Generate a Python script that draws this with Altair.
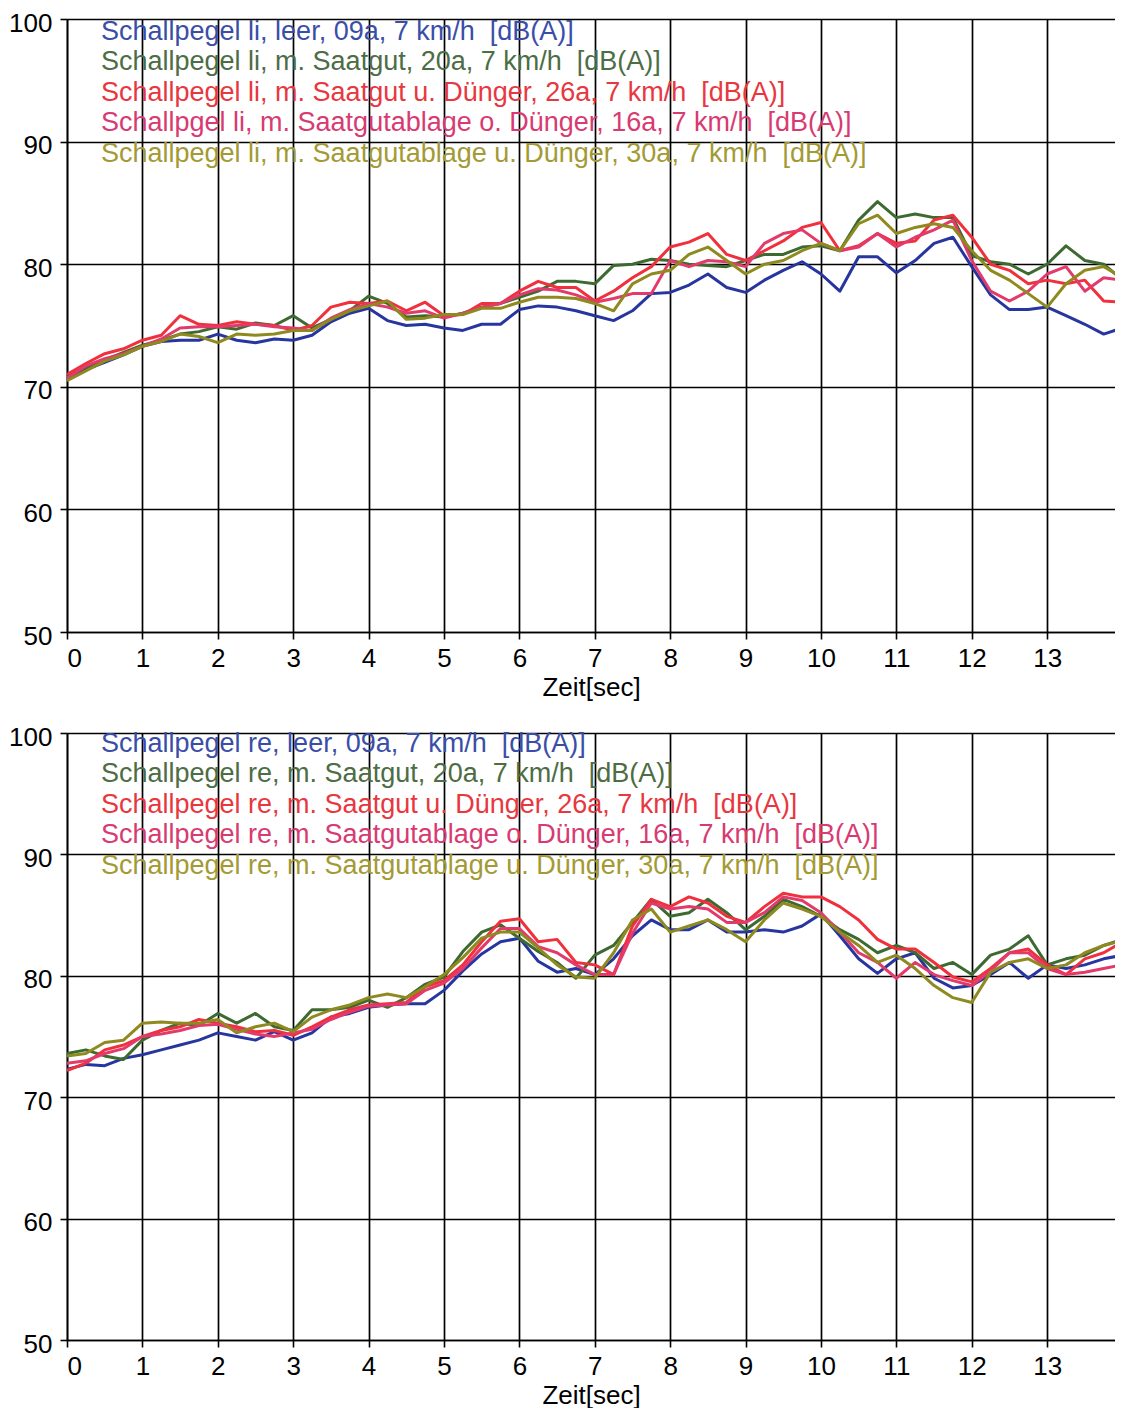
import altair as alt
import pandas as pd

# time samples (s)
T = [i * 0.25 for i in range(57)]

SERIES = ["leer", "Saatgut", "SaatgutDuenger", "AblageOhne", "AblageMit"]
LINE_COLORS = ["#27369f", "#3d6a30", "#f0303c", "#e33a6c", "#8e8a1f"]
TEXT_COLORS = ["#3a4ea8", "#4d6d45", "#e8373f", "#d83a72", "#a39a35"]

NB = "\u00a0"
LABELS_LI = [
    f"Schallpegel li, leer, 09a, 7 km/h {NB}[dB(A)]",
    f"Schallpegel li, m. Saatgut, 20a, 7 km/h {NB}[dB(A)]",
    f"Schallpegel li, m. Saatgut u. Dünger, 26a, 7 km/h {NB}[dB(A)]",
    f"Schallpgel li, m. Saatgutablage o. Dünger, 16a, 7 km/h {NB}[dB(A)]",
    f"Schallpegel li, m. Saatgutablage u. Dünger, 30a, 7 km/h {NB}[dB(A)]",
]
LABELS_RE = [
    f"Schallpegel re, leer, 09a, 7 km/h {NB}[dB(A)]",
    f"Schallpegel re, m. Saatgut, 20a, 7 km/h {NB}[dB(A)]",
    f"Schallpegel re, m. Saatgut u. Dünger, 26a, 7 km/h {NB}[dB(A)]",
    f"Schallpegel re, m. Saatgutablage o. Dünger, 16a, 7 km/h {NB}[dB(A)]",
    f"Schallpegel re, m. Saatgutablage u. Dünger, 30a, 7 km/h {NB}[dB(A)]",
]

# ---- top panel (li) ----
LI_LEER = [70.6, 71.4, 72.0, 72.6, 73.3, 73.7, 73.8, 73.8, 74.3, 73.8, 73.6, 73.9, 73.8, 74.2, 75.3, 76.0,
           76.4, 75.4, 75.0, 75.1, 74.8, 74.6, 75.1, 75.1, 76.3, 76.6, 76.5, 76.2, 75.8, 75.4, 76.2, 77.6,
           77.7, 78.3, 79.2, 78.1, 77.7, 78.7, 79.5, 80.2, 79.2, 77.8, 80.6, 80.6, 79.3, 80.3, 81.7, 82.2,
           79.8, 77.5, 76.3, 76.3, 76.5, 75.8, 75.1, 74.3, 74.8]
LI_SAAT = [70.8, 71.6, 72.2, 72.8, 73.4, 73.8, 74.3, 74.5, 74.9, 74.7, 75.2, 75.0, 75.8, 74.8, 75.5, 76.2,
           77.4, 76.8, 75.7, 75.8, 75.7, 76.0, 76.5, 76.8, 77.3, 77.8, 78.6, 78.6, 78.4, 79.9, 80.0, 80.4,
           80.3, 80.0, 79.9, 79.8, 80.3, 80.8, 80.8, 81.4, 81.5, 81.1, 83.6, 85.1, 83.8, 84.1, 83.8, 83.8,
           80.7, 80.2, 80.0, 79.2, 80.0, 81.5, 80.3, 80.0, 78.7]
LI_SD = [71.0, 71.9, 72.7, 73.1, 73.8, 74.2, 75.8, 75.1, 75.0, 75.3, 75.1, 75.0, 74.6, 75.0, 76.5, 76.9,
         76.8, 77.0, 76.2, 76.9, 75.8, 75.9, 76.8, 76.8, 77.8, 78.6, 78.1, 78.1, 77.0, 77.8, 78.9, 79.8,
         81.4, 81.8, 82.5, 80.8, 80.3, 81.1, 81.9, 83.0, 83.4, 81.1, 81.5, 82.5, 81.7, 81.9, 83.6, 84.0,
         82.2, 80.0, 79.5, 78.4, 78.7, 78.4, 78.7, 77.0, 76.9]
LI_AO = [70.7, 71.7, 72.3, 72.7, 73.3, 73.9, 74.8, 74.9, 74.9, 75.0, 75.1, 74.9, 74.8, 74.6, 75.6, 76.3,
         76.8, 76.5, 76.0, 76.2, 75.6, 76.0, 76.5, 76.8, 77.5, 78.0, 77.9, 77.5, 76.9, 77.2, 77.6, 77.6,
         80.3, 79.8, 80.3, 80.2, 79.8, 81.7, 82.5, 82.8, 81.7, 81.1, 81.4, 82.5, 81.4, 82.2, 82.8, 83.6,
         80.3, 77.8, 77.0, 77.8, 79.2, 79.8, 77.8, 78.9, 78.7]
LI_AM = [70.5, 71.3, 72.1, 72.6, 73.3, 73.7, 74.3, 74.1, 73.6, 74.3, 74.2, 74.3, 74.6, 74.6, 75.5, 76.2,
         76.6, 77.0, 75.5, 75.6, 75.9, 75.9, 76.4, 76.4, 76.9, 77.3, 77.3, 77.2, 76.8, 76.2, 78.4, 79.2,
         79.5, 80.8, 81.4, 80.3, 79.2, 80.0, 80.3, 81.1, 81.7, 81.1, 83.3, 84.0, 82.5, 83.0, 83.3, 83.0,
         81.1, 79.5, 78.7, 77.6, 76.5, 78.4, 79.5, 79.8, 78.9]

# ---- bottom panel (re) ----
RE_LEER = [72.3, 72.7, 72.6, 73.2, 73.5, 73.9, 74.3, 74.7, 75.3, 75.0, 74.7, 75.4, 74.7, 75.3, 76.6, 76.9,
           77.4, 77.6, 77.7, 77.7, 78.8, 80.4, 81.8, 82.8, 83.1, 81.2, 80.3, 80.6, 80.1, 81.4, 83.3, 84.6,
           83.8, 83.8, 84.6, 83.6, 83.6, 83.8, 83.6, 84.1, 85.1, 83.3, 81.4, 80.2, 81.4, 81.9, 79.8, 79.0,
           79.2, 80.1, 81.1, 79.8, 80.9, 80.6, 80.9, 81.4, 81.7]
RE_SAAT = [73.6, 73.9, 73.4, 73.1, 74.7, 75.5, 76.1, 75.9, 76.9, 76.1, 76.9, 75.8, 75.5, 77.2, 77.2, 77.4,
           78.0, 77.4, 78.2, 79.3, 79.9, 82.0, 83.6, 84.2, 83.1, 82.0, 81.1, 79.8, 81.7, 82.5, 84.4, 86.3,
           84.9, 85.2, 86.3, 85.2, 83.8, 84.9, 86.3, 85.7, 84.9, 83.8, 83.0, 81.9, 82.5, 81.9, 80.6, 81.1,
           80.1, 81.7, 82.2, 83.3, 80.9, 81.4, 81.7, 82.5, 83.0]
RE_SD = [72.2, 72.8, 73.9, 74.3, 75.0, 75.5, 75.8, 76.4, 76.1, 75.8, 75.4, 75.5, 75.1, 75.8, 76.6, 77.2,
         77.6, 77.7, 77.8, 79.1, 79.6, 80.9, 82.8, 84.5, 84.7, 82.8, 83.0, 81.1, 80.9, 80.1, 84.1, 86.3,
         85.7, 86.5, 86.0, 84.9, 84.4, 85.7, 86.8, 86.5, 86.5, 85.7, 84.6, 83.0, 82.2, 82.2, 81.1, 79.9,
         79.5, 80.6, 81.9, 82.2, 80.9, 80.1, 81.4, 81.9, 82.8]
RE_AO = [72.8, 73.0, 73.6, 74.0, 75.0, 75.2, 75.5, 75.9, 76.0, 75.6, 75.2, 75.0, 75.3, 75.6, 76.4, 77.0,
         77.5, 77.6, 77.7, 78.8, 79.4, 80.6, 82.3, 83.9, 83.9, 82.4, 81.9, 80.9, 80.1, 80.1, 83.5, 86.0,
         85.5, 85.7, 85.5, 84.4, 84.4, 85.2, 86.5, 86.2, 85.2, 83.6, 81.9, 81.1, 79.8, 81.1, 80.1, 79.6,
         79.2, 80.4, 81.9, 81.9, 80.6, 80.1, 80.3, 80.6, 80.9]
RE_AM = [73.4, 73.6, 74.5, 74.7, 76.1, 76.2, 76.1, 76.1, 76.4, 75.3, 75.8, 76.1, 75.4, 76.6, 77.2, 77.6,
         78.2, 78.5, 78.2, 79.1, 80.1, 81.5, 83.1, 83.6, 83.6, 82.3, 80.9, 79.9, 79.8, 81.9, 84.6, 85.5,
         83.6, 84.1, 84.6, 83.8, 82.8, 84.6, 86.0, 85.5, 84.9, 83.6, 82.5, 81.1, 81.7, 80.6, 79.2, 78.2,
         77.8, 80.3, 81.1, 81.4, 80.6, 80.9, 81.9, 82.5, 82.9]


def long_df(series_lists):
    rows = []
    for key, vals in zip(SERIES, series_lists):
        for tt, vv in zip(T, vals):
            rows.append({"t": tt, "v": vv, "s": key})
    return pd.DataFrame(rows)


df_li = long_df([LI_LEER, LI_SAAT, LI_SD, LI_AO, LI_AM])
df_re = long_df([RE_LEER, RE_SAAT, RE_SD, RE_AO, RE_AM])

W = 1048
XMAX = 13.9
FONT = "Liberation Sans"


def panel(df, labels, h, text_top):
    lines = alt.Chart(df).mark_line(strokeWidth=3, strokeJoin="round", clip=True).encode(
        x=alt.X("t:Q", scale=alt.Scale(domain=[0, XMAX], nice=False, zero=False),
                axis=alt.Axis(values=list(range(14)), title="Zeit[sec]")),
        y=alt.Y("v:Q", scale=alt.Scale(domain=[50, 100], nice=False, zero=False),
                axis=alt.Axis(values=[50, 60, 70, 80, 90, 100], title=None)),
        color=alt.Color("s:N", scale=alt.Scale(domain=SERIES, range=LINE_COLORS), legend=None),
    )
    texts = []
    for i, (lab, col) in enumerate(zip(labels, TEXT_COLORS)):
        texts.append(
            alt.Chart(pd.DataFrame({"label": [lab]})).mark_text(
                align="left", baseline="middle", font=FONT, fontSize=27, color=col
            ).encode(x=alt.value(34), y=alt.value(text_top + 30.4 * i), text="label:N")
        )
    return alt.layer(lines, *texts).properties(width=W, height=h)


chart = alt.vconcat(
    panel(df_li, LABELS_LI, 613, 13),
    panel(df_re, LABELS_RE, 607, 11),
    spacing=24,
).properties(
    padding={"left": 0, "top": 2, "right": 0, "bottom": 0}
).configure_view(stroke=None).configure_axis(
    domainColor="black", domainWidth=1.6,
    gridColor="black", gridWidth=1.7, gridOpacity=1,
    tickColor="black", tickWidth=1.6, tickSize=7,
    labelColor="black", labelFont=FONT, labelFontSize=26,
    titleColor="black", titleFont=FONT, titleFontSize=26, titleFontWeight="normal",
).configure_axisY(labelPadding=8, labelOffset=4).configure_axisX(labelPadding=6, titlePadding=3)

chart.save("out.html", embed_options={"renderer": "svg", "actions": False})
